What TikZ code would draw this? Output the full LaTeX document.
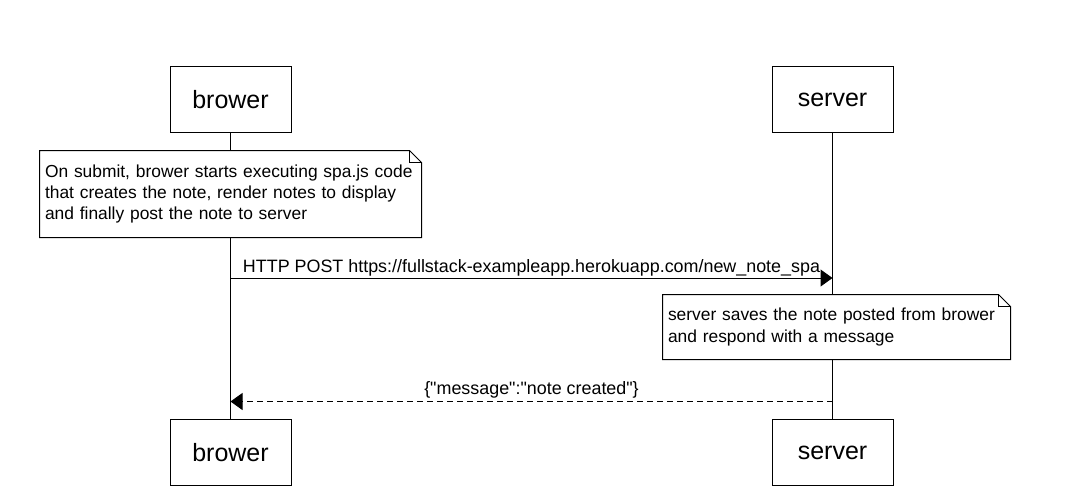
\documentclass[tikz,border=0pt]{standalone}
\usepackage{fontspec}
\newfontfamily\seqfont{Liberation Sans}
\usetikzlibrary{positioning, arrows.meta}

\begin{document}
\begin{tikzpicture}[x=1pt, y=-1pt, line width=1pt]
    \tikzstyle{actor} = [rectangle, minimum width=121pt, minimum height=66pt, text centered, draw=black, fill=white, font=\seqfont\fontsize{25}{30}\selectfont]
    \tikzstyle{note} = [rectangle, fill=white, align=left, inner xsep=5pt, inner ysep=0pt, font=\seqfont\fontsize{17.4}{21.3}\selectfont]
    \tikzstyle{msg} = [-{Triangle[length=12pt,width=17pt]}]
    \tikzstyle{reply} = [msg, dash pattern=on 6pt off 4pt]
    \tikzstyle{msglabel} = [font=\seqfont\fontsize{17.9}{21}\selectfont, inner sep=1pt]

    \useasboundingbox (0,0) rectangle (1084,499);

    \node (brTop) [actor] at (230.5,99.5) {brower};
    \node (svTop) [actor, right=480pt of brTop] {server};
    \node (brBot) [actor, below=286pt of brTop] {brower};
    \node (svBot) [actor, below=286pt of svTop] {server};

    \draw (brTop) -- (brBot);
    \draw (svTop) -- (svBot);

    \node (createNote) [note, text width=371pt, minimum height=86pt] at (230.5,194) {On submit, brower starts executing spa.js code\\that creates the note, render notes to display\\and finally post the note to server};
    \node (saveNote) [note, text width=337pt, minimum height=64pt] at (836.5,327) {server saves the note posted from brower\\and respond with a message};

    % notes with folded corner
    \foreach \n in {createNote, saveNote} {
        \draw (\n.south west) -- (\n.north west) -- ([xshift=-12pt]\n.north east) -- ([yshift=-12pt]\n.north east) -- (\n.south east) -- cycle;
        \draw ([xshift=-12pt]\n.north east) -- ([xshift=-12pt,yshift=-12pt]\n.north east) -- ([yshift=-12pt]\n.north east);
    }

    \coordinate (postFrom) at (brTop.south |- 0,278);
    \coordinate (postTo) at (svTop.south |- 0,278);
    \coordinate (replyFrom) at (svTop.south |- 0,401.5);
    \coordinate (replyTo) at (brTop.south |- 0,401.5);

    \draw [msg] (postFrom) -- node [msglabel, above] {HTTP POST https://fullstack-exampleapp.herokuapp.com/new\_note\_spa} (postTo);
    \draw [reply] (replyFrom) -- node [msglabel, above=2pt] {\{"message":"note created"\}} (replyTo);
\end{tikzpicture}
\end{document}
